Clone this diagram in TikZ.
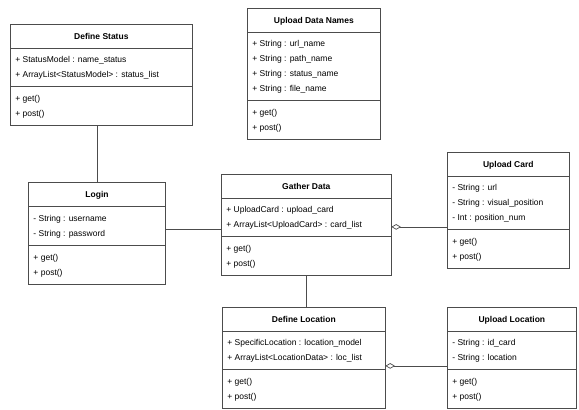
\documentclass[tikz,border=0pt]{standalone}
\usepackage{fontspec}
\setmainfont{Liberation Sans}
\usetikzlibrary{shapes.multipart, arrows}
\tikzset{
umlclass/.style={rectangle split, rectangle split parts=3, draw=black!70, line width=0.7pt, anchor=north west, align=left, rectangle split part align={center,left,left}, font=\fontsize{8.5}{15}\selectfont, inner xsep=5pt, inner ysep=4pt}, % one class: name, fields, methods
link/.style={draw=black!70, line width=0.7pt}, % plain association
haslink/.style={link, open diamond-}, % aggregation, diamond at the owner
}

\begin{document}
\begin{tikzpicture}[x=1pt, y=-1pt]
        \useasboundingbox (0,0) rectangle (579,410);

        \node[umlclass, minimum width=182pt] (status) at (10,24) {\strut\textbf{Define Status}
            \nodepart{two}\strut+ StatusModel : name\_status\\\strut+ ArrayList<StatusModel> : status\_list
            \nodepart{three}\strut+ get()\\\strut+ post()};
        \node[umlclass, minimum width=133pt] (names) at (247,8) {\strut\textbf{Upload Data Names}
            \nodepart{two}\strut+ String : url\_name\\\strut+ String : path\_name\\\strut+ String : status\_name\\\strut+ String : file\_name
            \nodepart{three}\strut+ get()\\\strut+ post()};
        \node[umlclass, minimum width=137pt, line width=1pt] (login) at (28,182) {\strut\textbf{Login}
            \nodepart{two}\strut- String : username\\\strut- String : password
            \nodepart{three}\strut+ get()\\\strut+ post()};
        \node[umlclass, minimum width=170pt] (gather) at (221,174) {\strut\textbf{Gather Data}
            \nodepart{two}\strut+ UploadCard : upload\_card\\\strut+ ArrayList<UploadCard> : card\_list
            \nodepart{three}\strut+ get()\\\strut+ post()};
        \node[umlclass, minimum width=122pt] (card) at (447,152) {\strut\textbf{Upload Card}
            \nodepart{two}\strut- String : url\\\strut- String : visual\_position\\\strut- Int : position\_num
            \nodepart{three}\strut+ get()\\\strut+ post()};
        \node[umlclass, minimum width=163pt] (location) at (222,307) {\strut\textbf{Define Location}
            \nodepart{two}\strut+ SpecificLocation : location\_model\\\strut+ ArrayList<LocationData> : loc\_list
            \nodepart{three}\strut+ get()\\\strut+ post()};
        \node[umlclass, minimum width=129pt] (uploc) at (447,307) {\strut\textbf{Upload Location}
            \nodepart{two}\strut- String : id\_card\\\strut- String : location
            \nodepart{three}\strut+ get()\\\strut+ post()};

        \draw[link] (login.north |- status.south) -- (login.north);
        \draw[link] ([yshift=4pt]login.east) -- ([yshift=4pt]login.east -| gather.west);
        \draw[haslink] ([yshift=-2pt]gather.east) -- ([yshift=-2pt]gather.east -| card.west);
        \draw[link] (gather.south) -- (gather.south |- location.north);
        \draw[haslink] ([yshift=-8pt]location.east) -- ([yshift=-8pt]location.east -| uploc.west);
    \end{tikzpicture}
\end{document}
